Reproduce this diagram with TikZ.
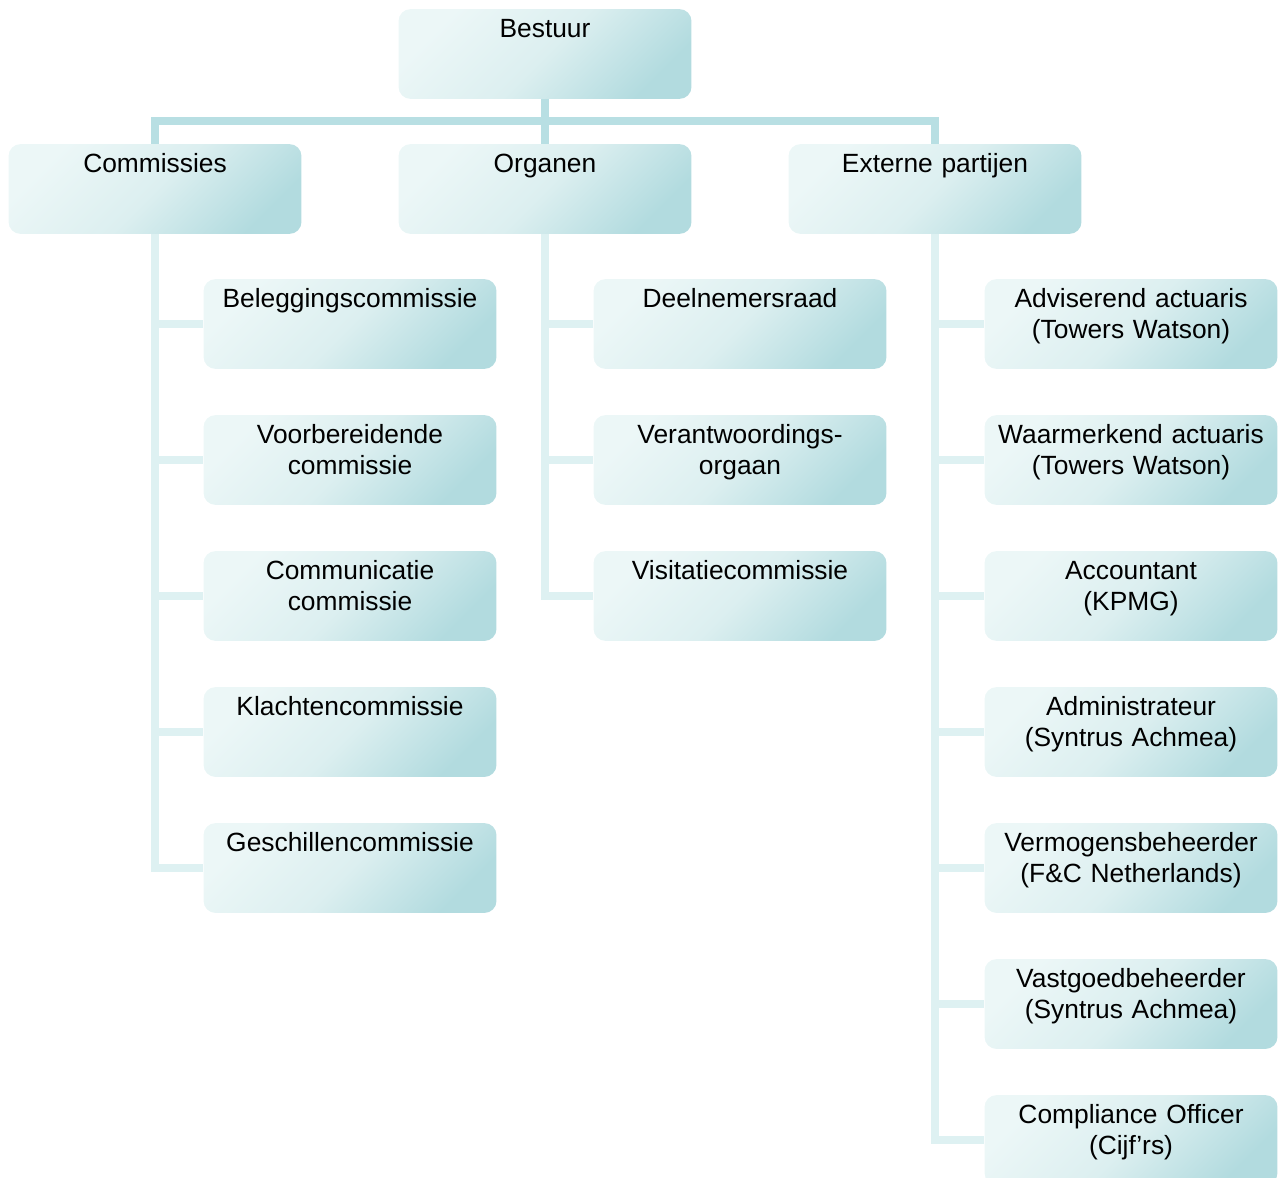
\documentclass[tikz,border=0pt]{standalone}
\usepackage{fontspec}
\setmainfont{Liberation Sans}

\definecolor{boxlight}{RGB}{236,247,247}
\definecolor{boxmid}{RGB}{220,239,240}
\definecolor{boxdark}{RGB}{178,219,223}
\definecolor{trunk}{RGB}{184,223,227}
\definecolor{branch}{RGB}{222,241,242}

\begin{document}
\begin{tikzpicture}[x=0.02cm,y=-0.02cm,
		box/.style={rounded corners=0.24cm, top color=boxlight, bottom color=boxdark, middle color=boxmid, shading angle=45,
			text width=5.86cm, inner xsep=0pt, inner ysep=0.19cm, text height=10.7pt, text depth=1.04cm,
			align=center, font=\fontsize{15}{17.6}\selectfont},
		trunkline/.style={draw=trunk, line width=0.16cm},
		branchline/.style={draw=branch, line width=0.16cm}]
		\useasboundingbox (0,0) rectangle (1283,1177);
		% top levels
		\node[box] (bestuur) at (545,54) {Bestuur};
		\node[box] (commissies) at (155,189) {Commissies};
		\node[box] (organen) at (545,189) {Organen};
		\node[box] (extern) at (935,189) {Externe partijen};
		\coordinate (bar) at (545,121);
		% commissies
		\node[box] (beleg) at (350,324) {Beleggingscommissie};
		\node[box] (voorb) at (350,460) {Voorbereidende\\commissie};
		\node[box] (commu) at (350,596) {Communicatie\\commissie};
		\node[box] (klacht) at (350,732) {Klachtencommissie};
		\node[box] (geschil) at (350,868) {Geschillencommissie};
		% organen
		\node[box] (deeln) at (740,324) {Deelnemersraad};
		\node[box] (verant) at (740,460) {Verantwoordings-\\orgaan};
		\node[box] (visit) at (740,596) {Visitatiecommissie};
		% externe partijen
		\node[box] (advis) at (1131,324) {Adviserend actuaris\\(Towers Watson)};
		\node[box] (waarm) at (1131,460) {Waarmerkend actuaris\\(Towers Watson)};
		\node[box] (accnt) at (1131,596) {Accountant\\(KPMG)};
		\node[box] (admin) at (1131,732) {Administrateur\\(Syntrus Achmea)};
		\node[box] (vermog) at (1131,868) {Vermogensbeheerder\\(F\&C Netherlands)};
		\node[box] (vastg) at (1131,1004) {Vastgoedbeheerder\\(Syntrus Achmea)};
		\node[box] (compl) at (1131,1140) {Compliance Officer\\(Cijf’rs)};

		\draw[trunkline] (bestuur.south) -- (organen.north);
		\draw[trunkline] (commissies.north) |- (bar) -| (extern.north);

		\draw[branchline] (commissies.south) |- (geschil.west);
		\draw[branchline] (commissies.south |- beleg.west) -- (beleg.west);
		\draw[branchline] (commissies.south |- voorb.west) -- (voorb.west);
		\draw[branchline] (commissies.south |- commu.west) -- (commu.west);
		\draw[branchline] (commissies.south |- klacht.west) -- (klacht.west);

		\draw[branchline] (organen.south) |- (visit.west);
		\draw[branchline] (organen.south |- deeln.west) -- (deeln.west);
		\draw[branchline] (organen.south |- verant.west) -- (verant.west);

		\draw[branchline] (extern.south) |- (compl.west);
		\draw[branchline] (extern.south |- advis.west) -- (advis.west);
		\draw[branchline] (extern.south |- waarm.west) -- (waarm.west);
		\draw[branchline] (extern.south |- accnt.west) -- (accnt.west);
		\draw[branchline] (extern.south |- admin.west) -- (admin.west);
		\draw[branchline] (extern.south |- vermog.west) -- (vermog.west);
		\draw[branchline] (extern.south |- vastg.west) -- (vastg.west);
	\end{tikzpicture}
\end{document}
